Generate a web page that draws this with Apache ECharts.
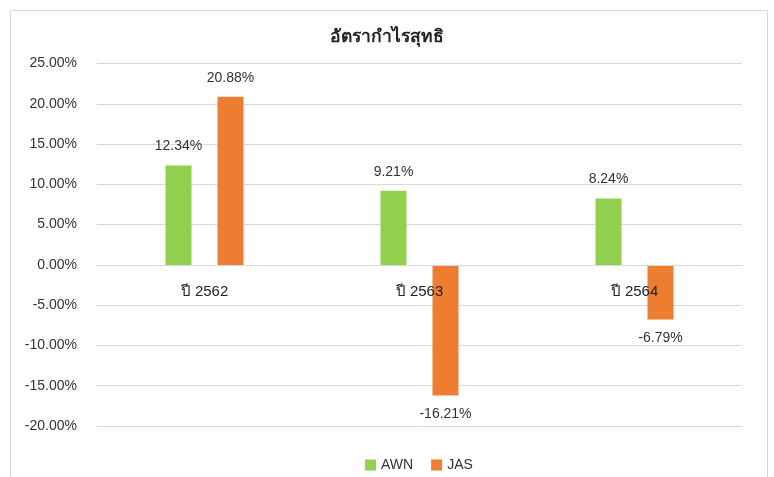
<!DOCTYPE html>
<html>
<head>
<meta charset="utf-8">
<script src="https://cdn.jsdelivr.net/npm/echarts@6/dist/echarts.min.js"></script>
<style>
  html, body { margin: 0; padding: 0; background: #fff; }
  #chart { width: 774px; height: 477px; }
</style>
</head>
<body>
<div id="chart"></div>
<script>
// ข้อมูล
var categories = ['ปี 2562', 'ปี 2563', 'ปี 2564'];
var awn = [12.34, 9.21, 8.24];
var jas = [20.88, -16.21, -6.79];
var seriesNames = ['AWN', 'JAS'];

var font = "'Liberation Sans', Arial, 'Noto Sans', sans-serif";

function withLabels(values) {
  return values.map(function (v) {
    return { value: v, label: { position: v < 0 ? 'bottom' : 'top' } };
  });
}

var myChart = echarts.init(document.getElementById('chart'));

var option = {
  backgroundColor: '#fff',
  textStyle: { fontFamily: font },
  graphic: [{
    type: 'rect',
    shape: { x: 10.5, y: 10.5, width: 757, height: 480 },
    style: { fill: 'none', stroke: '#d9d9d9', lineWidth: 1 },
    silent: true
  }],
  title: {
    text: 'อัตรากำไรสุทธิ',
    left: 'center',
    top: 23,
    textStyle: { fontSize: 17.5, fontWeight: 'bold', color: '#222', fontFamily: font }
  },
  legend: {
    data: seriesNames,
    bottom: 0,
    left: 360,
    icon: 'rect',
    itemWidth: 11,
    itemHeight: 11,
    itemGap: 18,
    textStyle: { fontSize: 14, color: '#333', fontFamily: font }
  },
  grid: { left: 97, right: 32, top: 63.5, bottom: 51 },
  xAxis: {
    type: 'category',
    data: categories,
    z: 5,
    // แกน x วางที่ระดับ 0%
    offset: -161,
    axisLine: { show: true, onZero: false, lineStyle: { color: '#d9d9d9' } },
    axisTick: { show: false },
    axisLabel: { fontSize: 15, color: '#222', margin: 19, fontFamily: font }
  },
  yAxis: {
    type: 'value',
    min: -20,
    max: 25,
    interval: 5,
    axisLine: { show: false },
    axisTick: { show: false },
    splitLine: { lineStyle: { color: '#d9d9d9', width: 1 } },
    axisLabel: {
      fontSize: 14,
      color: '#333',
      margin: 20,
      fontFamily: font,
      formatter: function (v) { return v.toFixed(2) + '%'; }
    }
  },
  series: [
    {
      name: seriesNames[0],
      type: 'bar',
      data: withLabels(awn),
      barWidth: 26,
      barGap: '100%',
      itemStyle: { color: '#92d050' },
      label: {
        show: true, distance: 12, fontSize: 14, color: '#333', fontFamily: font,
        formatter: function (p) { return p.value.toFixed(2) + '%'; }
      }
    },
    {
      name: seriesNames[1],
      type: 'bar',
      data: withLabels(jas),
      barWidth: 26,
      barGap: '100%',
      itemStyle: { color: '#ed7d31' },
      label: {
        show: true, distance: 12, fontSize: 14, color: '#333', fontFamily: font,
        formatter: function (p) { return p.value.toFixed(2) + '%'; }
      }
    }
  ]
};

myChart.setOption(option);
</script>
</body>
</html>
